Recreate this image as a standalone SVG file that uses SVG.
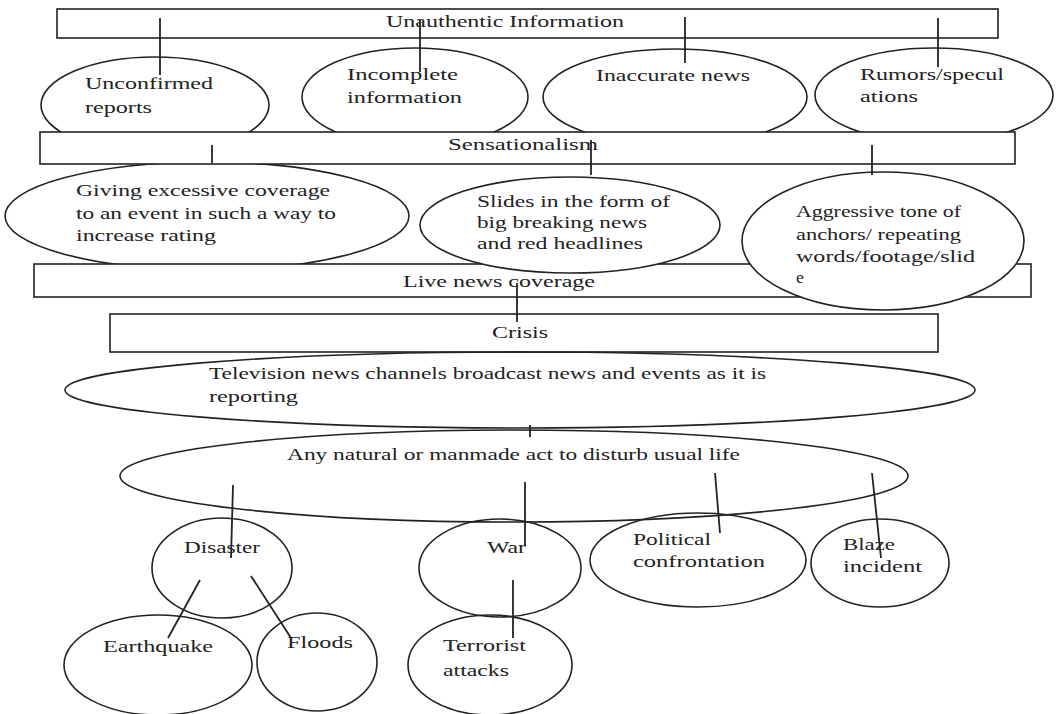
<svg xmlns="http://www.w3.org/2000/svg" width="1057" height="714" viewBox="0 0 1057 714">
<style>
.s{fill:#fff;stroke:#222;stroke-width:1.6}
.n{fill:none;stroke:#222;stroke-width:1.6}
text{font-family:"Liberation Serif","DejaVu Serif",serif;font-size:16px;fill:#222}
#connectors line{stroke:#222;stroke-width:1.8}
</style>
<rect width="1057" height="714" fill="#fff"/>
<g id="row1">
<g id="unconfirmed"><ellipse class="s" cx="155" cy="105" rx="114" ry="48"/><text x="85" y="89" textLength="128" lengthAdjust="spacingAndGlyphs">Unconfirmed</text><text x="85" y="113" textLength="67" lengthAdjust="spacingAndGlyphs">reports</text></g>
<g id="incomplete"><ellipse class="s" cx="415" cy="97" rx="113" ry="49"/><text x="347" y="80" textLength="111" lengthAdjust="spacingAndGlyphs">Incomplete</text><text x="347" y="103" textLength="115" lengthAdjust="spacingAndGlyphs">information</text></g>
<g id="inaccurate"><ellipse class="s" cx="675" cy="97" rx="132" ry="48"/><text x="596" y="81" textLength="154" lengthAdjust="spacingAndGlyphs">Inaccurate news</text></g>
<g id="rumors"><ellipse class="s" cx="934" cy="95" rx="119" ry="47"/><text x="860" y="80" textLength="144" lengthAdjust="spacingAndGlyphs">Rumors/specul</text><text x="860" y="102" textLength="58" lengthAdjust="spacingAndGlyphs">ations</text></g>
</g>
<g id="unauthentic"><rect class="s" x="57" y="9" width="941" height="29"/><text x="386" y="27" textLength="238" lengthAdjust="spacingAndGlyphs">Unauthentic Information</text></g>
<g id="giving"><ellipse class="s" cx="207" cy="216" rx="202" ry="54"/><text x="76" y="196" textLength="254" lengthAdjust="spacingAndGlyphs">Giving excessive coverage</text><text x="76" y="219" textLength="260" lengthAdjust="spacingAndGlyphs">to an event in such a way to</text><text x="76" y="241" textLength="140" lengthAdjust="spacingAndGlyphs">increase rating</text></g>
<g id="sensationalism"><rect class="s" x="40" y="132" width="975" height="32"/><text x="448" y="150" textLength="150" lengthAdjust="spacingAndGlyphs">Sensationalism</text></g>
<g id="live"><rect class="s" x="34" y="264" width="997" height="33"/></g>
<g id="slides"><ellipse class="s" cx="570" cy="225" rx="150" ry="48"/><text x="477" y="207" textLength="193" lengthAdjust="spacingAndGlyphs">Slides in the form of</text><text x="477" y="228" textLength="170" lengthAdjust="spacingAndGlyphs">big breaking news</text><text x="477" y="249" textLength="166" lengthAdjust="spacingAndGlyphs">and red headlines</text></g>
<g id="live-label"><text x="403" y="287" textLength="192" lengthAdjust="spacingAndGlyphs">Live news coverage</text></g>
<g id="aggressive"><ellipse class="s" cx="883" cy="241" rx="141" ry="69"/><text x="796" y="217" textLength="165" lengthAdjust="spacingAndGlyphs">Aggressive tone of</text><text x="796" y="240" textLength="165" lengthAdjust="spacingAndGlyphs">anchors/ repeating</text><text x="796" y="262" textLength="179" lengthAdjust="spacingAndGlyphs">words/footage/slid</text><text x="796" y="283" textLength="8" lengthAdjust="spacingAndGlyphs">e</text></g>
<g id="crisis"><rect class="s" x="110" y="314" width="828" height="38"/><text x="492" y="338" textLength="56" lengthAdjust="spacingAndGlyphs">Crisis</text></g>
<g id="television"><ellipse class="n" cx="520" cy="390" rx="455" ry="38"/><text x="209" y="379" textLength="557" lengthAdjust="spacingAndGlyphs">Television news channels broadcast news and events as it is</text><text x="209" y="402" textLength="89" lengthAdjust="spacingAndGlyphs">reporting</text></g>
<g id="anynatural"><ellipse class="n" cx="514" cy="476" rx="394" ry="46"/><text x="287" y="460" textLength="453" lengthAdjust="spacingAndGlyphs">Any natural or manmade act to disturb usual life</text></g>
<g id="disaster"><ellipse class="n" cx="222" cy="568" rx="70" ry="50"/><text x="184" y="553" textLength="76" lengthAdjust="spacingAndGlyphs">Disaster</text></g>
<g id="war"><ellipse class="n" cx="500" cy="568" rx="81" ry="49"/><text x="487" y="553" textLength="39" lengthAdjust="spacingAndGlyphs">War</text></g>
<g id="political"><ellipse class="n" cx="698" cy="560" rx="108" ry="47"/><text x="633" y="545" textLength="78" lengthAdjust="spacingAndGlyphs">Political</text><text x="633" y="567" textLength="132" lengthAdjust="spacingAndGlyphs">confrontation</text></g>
<g id="blaze"><ellipse class="n" cx="880" cy="563" rx="69" ry="44"/><text x="843" y="550" textLength="52" lengthAdjust="spacingAndGlyphs">Blaze</text><text x="843" y="572" textLength="79" lengthAdjust="spacingAndGlyphs">incident</text></g>
<g id="earthquake"><ellipse class="n" cx="158" cy="665" rx="94" ry="50"/><text x="103" y="652" textLength="110" lengthAdjust="spacingAndGlyphs">Earthquake</text></g>
<g id="floods"><ellipse class="n" cx="317" cy="662" rx="60" ry="49"/><text x="287" y="648" textLength="66" lengthAdjust="spacingAndGlyphs">Floods</text></g>
<g id="terrorist"><ellipse class="n" cx="490" cy="665" rx="82" ry="50"/><text x="443" y="651" textLength="83" lengthAdjust="spacingAndGlyphs">Terrorist</text><text x="443" y="676" textLength="66" lengthAdjust="spacingAndGlyphs">attacks</text></g>
<g id="connectors">
<line x1="160" y1="18" x2="160" y2="75"/>
<line x1="420" y1="20" x2="420" y2="72"/>
<line x1="685" y1="17" x2="685" y2="63"/>
<line x1="938" y1="18" x2="938" y2="67"/>
<line x1="212" y1="145" x2="212" y2="163"/>
<line x1="591" y1="140" x2="591" y2="175"/>
<line x1="872" y1="145" x2="872" y2="175"/>
<line x1="517" y1="283" x2="517" y2="322"/>
<line x1="530" y1="425" x2="530" y2="437"/>
<line x1="233" y1="485" x2="231" y2="558"/>
<line x1="525" y1="482" x2="525" y2="546"/>
<line x1="715" y1="473" x2="720" y2="533"/>
<line x1="872" y1="473" x2="881" y2="558"/>
<line x1="200" y1="580" x2="168" y2="638"/>
<line x1="251" y1="576" x2="291" y2="638"/>
<line x1="513" y1="580" x2="513" y2="638"/>
</g>
</svg>
